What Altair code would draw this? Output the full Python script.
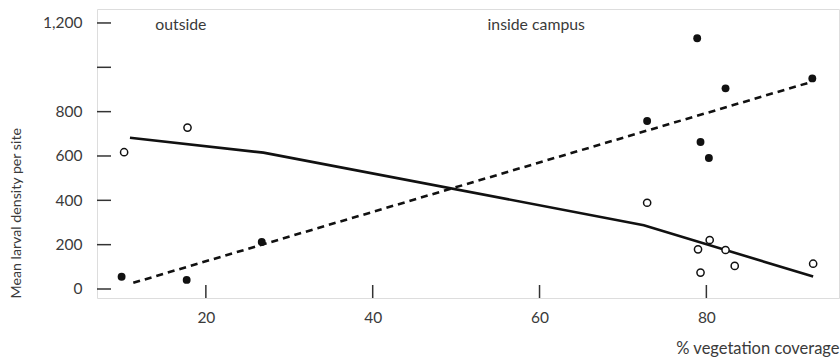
import altair as alt
import pandas as pd

# Filled circles (inside campus series) and open circles (outside series)
filled_x = [9.9, 17.7, 26.7, 72.9, 78.9, 79.3, 80.3, 82.3, 92.7]
filled_y = [55, 41, 212, 758, 1131, 663, 591, 905, 950]
open_x = [10.2, 17.8, 72.9, 79.0, 79.3, 80.4, 82.3, 83.4, 92.8]
open_y = [617, 728, 389, 179, 74, 221, 176, 104, 114]

# Fitted lines
solid_x = [10.9, 26.9, 72.5, 92.8]
solid_y = [682, 615, 288, 56]
dash_x = [11.3, 92.5]
dash_y = [28, 933]

# Axis ticks
y_ticks = [0, 200, 400, 600, 800, 1000, 1200]
x_ticks = [20, 40, 60, 80]

# Annotations
note_text = ["outside", "inside campus"]
note_x = [17.0, 59.6]
note_y = [1193, 1193]

FONT = "Lato"
TXT = "#3a3a3a"
INK = "#111111"

xs = alt.Scale(domain=[6.95, 95.9], nice=False, zero=False)
ys = alt.Scale(domain=[-40.6, 1263], nice=False, zero=False)

x_axis = alt.Axis(
    values=x_ticks, ticks=False, domain=False, grid=False,
    labelFont=FONT, labelFontSize=15.5, labelColor=TXT, labelPadding=12,
    title="% vegetation coverage", titleFont=FONT, titleFontSize=16.5,
    titleFontWeight="normal", titleColor=TXT, titleAnchor="end",
    titleAlign="right", titleBaseline="alphabetic", titleX=742, titleY=55,
)
y_axis = alt.Axis(
    values=y_ticks, ticks=False, domain=False, grid=False,
    labelFont=FONT, labelFontSize=15.5, labelColor=TXT, labelPadding=15,
    labelExpr="datum.value == 1000 ? '' : format(datum.value, ',')",
    title="Mean larval density per site", titleFont=FONT, titleFontSize=14.2,
    titleFontWeight="normal", titleColor=TXT, titleAngle=-90,
    titleAlign="left", titleBaseline="alphabetic", titleX=-77, titleY=289,
)


def X(field):
    return alt.X(field, type="quantitative", scale=xs, axis=x_axis)


def Y(field):
    return alt.Y(field, type="quantitative", scale=ys, axis=y_axis)


filled_df = pd.DataFrame({"x": filled_x, "y": filled_y})
open_df = pd.DataFrame({"x": open_x, "y": open_y})
solid_df = pd.DataFrame({"x": solid_x, "y": solid_y})
dash_df = pd.DataFrame({"x": dash_x, "y": dash_y})
ytick_df = pd.DataFrame({"y": y_ticks})
xtick_df = pd.DataFrame({"x": x_ticks})
note_df = pd.DataFrame({"x": note_x, "y": note_y, "t": note_text})

solid = alt.Chart(solid_df).mark_line(color=INK, strokeWidth=2.6).encode(x=X("x"), y=Y("y"))
dashed = alt.Chart(dash_df).mark_line(color=INK, strokeWidth=2.6, strokeDash=[7, 5]).encode(
    x=X("x"), y=Y("y"))
ytick = alt.Chart(ytick_df).mark_rule(color="#333333", strokeWidth=1.5).encode(
    y=Y("y"), x=alt.value(0), x2=alt.value(14))
xtick = alt.Chart(xtick_df).mark_rule(color="#333333", strokeWidth=1.5).encode(
    x=X("x"), y=alt.value(276), y2=alt.value(289))
filled = alt.Chart(filled_df).mark_point(
    shape="circle", filled=True, size=62, color=INK, opacity=1).encode(x=X("x"), y=Y("y"))
opened = alt.Chart(open_df).mark_point(
    shape="circle", filled=True, size=52, fill="white", stroke=INK, strokeWidth=1.5,
    opacity=1, fillOpacity=1).encode(x=X("x"), y=Y("y"))
notes = alt.Chart(note_df).mark_text(
    font=FONT, fontSize=15.8, color=TXT, align="center", baseline="middle").encode(
    x=X("x"), y=Y("y"), text="t:N")

chart = alt.layer(solid, dashed, ytick, xtick, filled, opened, notes).properties(
    width=742, height=289,
    autosize=alt.AutoSizeParams(type="none"),
    padding={"left": 97, "top": 9, "right": 1, "bottom": 64},
).configure_view(stroke="#333333", strokeWidth=1.6).configure(background="white")

chart.save("out.html", embed_options={"renderer": "svg", "actions": False})
